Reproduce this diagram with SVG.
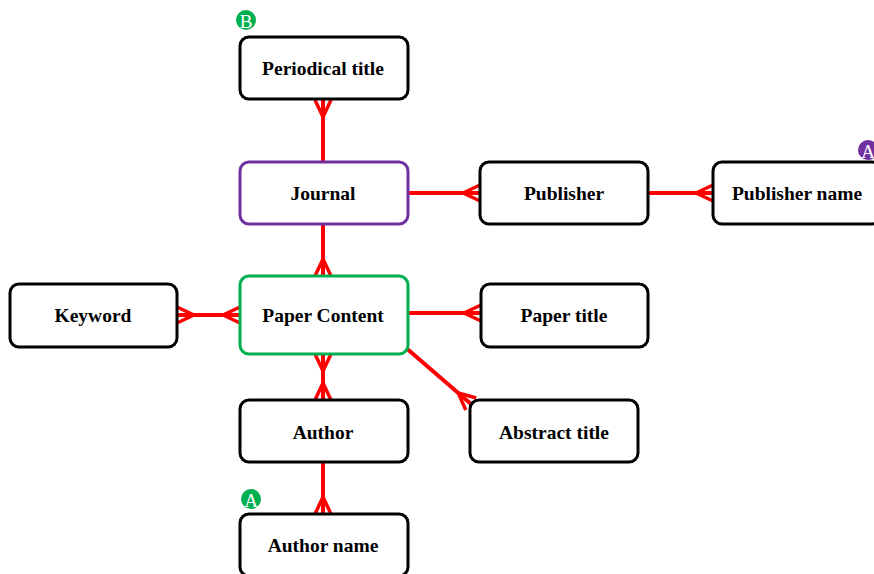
<svg xmlns="http://www.w3.org/2000/svg" width="874" height="574" viewBox="0 0 874 574">
<style>
.box{fill:#fff;stroke:#000;stroke-width:3}
.txt{font-family:"Liberation Serif","Times New Roman",serif;font-weight:bold;font-size:19.5px;fill:#000;text-anchor:middle;dominant-baseline:central}
.con{stroke:#ff0000;stroke-width:4;fill:none}
.badge{font-family:"Liberation Serif",serif;font-size:19px;fill:#fff;text-anchor:middle;dominant-baseline:central}
</style>
<defs>
<marker id="crow" viewBox="-20 -12 22 24" refX="0" refY="0" markerWidth="22" markerHeight="24" markerUnits="userSpaceOnUse" orient="auto-start-reverse" overflow="visible">
<path d="M-17,0 L0,-8 M-17,0 L0,8" stroke="#ff0000" stroke-width="3.5" fill="none"/>
</marker>
</defs>
<rect width="874" height="574" fill="#fff"/>
<g id="connectors">
<line class="con" x1="323" y1="162" x2="323" y2="100" marker-end="url(#crow)"/>
<line class="con" x1="408" y1="193" x2="480" y2="193" marker-end="url(#crow)"/>
<line class="con" x1="648" y1="193" x2="713" y2="193" marker-end="url(#crow)"/>
<line class="con" x1="323" y1="224" x2="323" y2="276" marker-end="url(#crow)"/>
<line class="con" x1="177" y1="315" x2="240" y2="315" marker-start="url(#crow)" marker-end="url(#crow)"/>
<line class="con" x1="408" y1="313" x2="481" y2="313" marker-end="url(#crow)"/>
<line class="con" x1="405" y1="347" x2="471" y2="404" marker-end="url(#crow)"/>
<line class="con" x1="323" y1="354" x2="323" y2="400" marker-start="url(#crow)" marker-end="url(#crow)"/>
<line class="con" x1="323" y1="462" x2="323" y2="514" marker-end="url(#crow)"/>
</g>
<g id="periodical-title">
<rect class="box" x="240" y="37" width="168" height="62" rx="9"/>
<text class="txt" x="323" y="68">Periodical title</text>
</g>
<g id="badge-b">
<circle cx="246" cy="20" r="10" fill="#00b050"/>
<text class="badge" x="246" y="21">B</text>
</g>
<g id="journal">
<rect class="box" x="240" y="162" width="168" height="62" rx="9" style="stroke:#7030a0"/>
<text class="txt" x="323" y="193">Journal</text>
</g>
<g id="publisher">
<rect class="box" x="480" y="162" width="168" height="62" rx="9"/>
<text class="txt" x="564" y="193">Publisher</text>
</g>
<g id="publisher-name">
<rect class="box" x="713" y="162" width="168" height="62" rx="9"/>
<text class="txt" x="797" y="193">Publisher name</text>
</g>
<g id="badge-a-purple">
<circle cx="868" cy="150" r="10" fill="#7030a0"/>
<text class="badge" x="868" y="151">A</text>
</g>
<g id="keyword">
<rect class="box" x="10" y="284" width="167" height="63" rx="9"/>
<text class="txt" x="93" y="315">Keyword</text>
</g>
<g id="paper-content">
<rect class="box" x="240" y="276" width="168" height="78" rx="9" style="stroke:#00b050"/>
<text class="txt" x="323" y="315">Paper Content</text>
</g>
<g id="paper-title">
<rect class="box" x="481" y="284" width="167" height="63" rx="9"/>
<text class="txt" x="564" y="315">Paper title</text>
</g>
<g id="abstract-title">
<rect class="box" x="470" y="400" width="168" height="62" rx="9"/>
<text class="txt" x="554" y="432">Abstract title</text>
</g>
<g id="author">
<rect class="box" x="240" y="400" width="168" height="62" rx="9"/>
<text class="txt" x="323" y="432">Author</text>
</g>
<g id="badge-a-green">
<circle cx="251" cy="499" r="10" fill="#00b050"/>
<text class="badge" x="251" y="500">A</text>
</g>
<g id="author-name">
<rect class="box" x="240" y="514" width="168" height="62" rx="9"/>
<text class="txt" x="323" y="545">Author name</text>
</g>
</svg>
